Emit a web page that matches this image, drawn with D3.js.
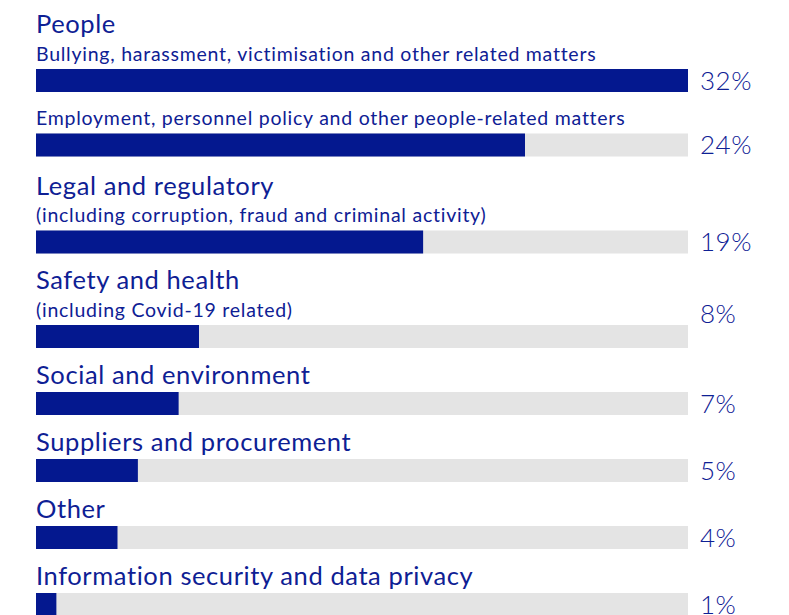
<!DOCTYPE html>
<html>
<head>
<meta charset="utf-8">
<script src="https://cdn.jsdelivr.net/npm/d3@7"></script>
<style>
  html, body { margin: 0; padding: 0; background: #ffffff; }
  svg { display: block; }
  text { font-family: Lato, "Open Sans", sans-serif; fill: #0e2094; }
</style>
</head>
<body>
<svg id="chart" width="789" height="615"></svg>
<script>
// Row headings (large type); null where a row only carries a detail line
const rowTitles = [
  "People",
  null,
  "Legal and regulatory",
  "Safety and health",
  "Social and environment",
  "Suppliers and procurement",
  "Other",
  "Information security and data privacy"
];

// Detail lines (smaller type) printed under a heading
const rowNotes = [
  "Bullying, harassment, victimisation and other related matters",
  "Employment, personnel policy and other people-related matters",
  "(including corruption, fraud and criminal activity)",
  "(including Covid-19 related)",
  null,
  null,
  null,
  null
];

// Share of reports per category (%)
const shares = [32, 24, 19, 8, 7, 5, 4, 1];
const shareLabels = ["32%", "24%", "19%", "8%", "7%", "5%", "4%", "1%"];

// ---- layout ----
const svg = d3.select("#chart");
const left = 36, trackEnd = 688;
const barH = 23;
const titleSize = 25.5, noteSize = 19.5, valueSize = 26;
const barColor = "#04188f", trackColor = "#e4e4e4";

const x = d3.scaleLinear().domain([0, d3.max(shares)]).range([left, trackEnd]);

// Stack the text lines and bars of each row from the top down
const rows = [];
let cursor = 33 - 35.5; // so the first heading sits on y = 33
rowTitles.forEach((title, i) => {
  const row = { i, title, note: rowNotes[i], value: shares[i], label: shareLabels[i] };
  if (title) {
    cursor += (i === 2 ? 38 : 35.5);
    row.titleY = cursor;
  }
  if (row.note) {
    cursor += title ? 27.5 : 33;
    row.noteY = cursor;
  }
  row.barY = cursor + 8.5;
  cursor = row.barY + barH;
  rows.push(row);
});

// Value labels that sit above their bar rather than beside its lower edge
const raisedLabels = new Set(["Safety and health"]);

const g = svg.append("g");

// Grey tracks
g.selectAll("rect.track")
  .data(rows)
  .join("rect")
  .attr("class", "track")
  .attr("x", x(0))
  .attr("y", d => d.barY)
  .attr("width", x(d3.max(shares)) - x(0))
  .attr("height", barH)
  .attr("fill", trackColor);

// Value bars
g.selectAll("rect.bar")
  .data(rows)
  .join("rect")
  .attr("class", "bar")
  .attr("x", x(0))
  .attr("y", d => d.barY)
  .attr("width", d => x(d.value) - x(0))
  .attr("height", barH)
  .attr("fill", barColor);

// Headings
g.selectAll("text.title")
  .data(rows.filter(d => d.title))
  .join("text")
  .attr("class", "title")
  .attr("x", left)
  .attr("y", d => d.titleY)
  .attr("font-size", titleSize)
  .attr("font-weight", 400)
  .attr("letter-spacing", 0.6)
  .text(d => d.title);

// Detail lines
g.selectAll("text.note")
  .data(rows.filter(d => d.note))
  .join("text")
  .attr("class", "note")
  .attr("x", left)
  .attr("y", d => d.noteY)
  .attr("font-size", noteSize)
  .attr("font-weight", 400)
  .attr("letter-spacing", 0.75)
  .text(d => d.note);

// Percentages
g.selectAll("text.value")
  .data(rows)
  .join("text")
  .attr("class", "value")
  .attr("x", 700)
  .attr("y", d => raisedLabels.has(d.title) ? d.barY - 2 : d.barY + barH - 2.5)
  .attr("font-size", valueSize)
  .attr("font-weight", 300)
  .attr("letter-spacing", 0.5)
  .text(d => d.label);
</script>
</body>
</html>
